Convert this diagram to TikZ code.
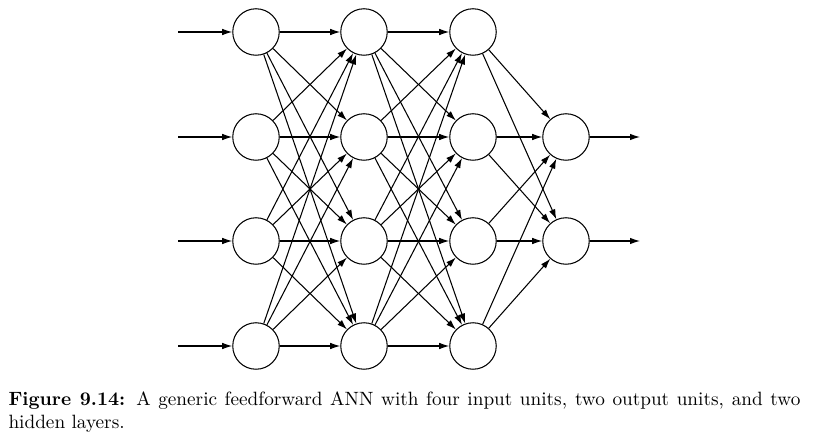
\documentclass[tikz,border=0pt]{standalone}
\usetikzlibrary{arrows.meta}

\begin{document}
\begin{tikzpicture}[x=0.02cm,y=-0.02cm,line width=0.6pt,
  unit/.style={draw,circle,minimum size=0.93cm,inner sep=0pt},
  conn/.style={-{Latex[length=2mm,width=1.3mm]}}]
  \useasboundingbox (0,0) rectangle (816,439);
  % units of the three left layers
  \foreach \i/\y in {1/32,2/137,3/241,4/346} {
    \node[unit] (a\i) at (256,\y) {};
    \node[unit] (b\i) at (364,\y) {};
    \node[unit] (c\i) at (473,\y) {};
    \coordinate (in\i) at (178,\y);
  }
  % output units
  \node[unit] (o1) at (566,137) {};
  \node[unit] (o2) at (566,241) {};
  \coordinate (out1) at (640,137);
  \coordinate (out2) at (640,241);
  % connections
  \foreach \i in {1,...,4} {
    \draw[conn] (in\i) -- (a\i);
    \foreach \j in {1,...,4} {
      \draw[conn] (a\i) -- (b\j);
      \draw[conn] (b\i) -- (c\j);
    }
    \foreach \j in {1,2}
      \draw[conn] (c\i) -- (o\j);
  }
  \draw[conn] (o1) -- (out1);
  \draw[conn] (o2) -- (out2);
  \node[anchor=north west,text width=15.84cm,align=justify,inner sep=0pt,
    font=\fontsize{10.95}{13}\selectfont]
    (caption) at (8,391)
    {\textbf{Figure 9.14:} A generic feedforward ANN with four input units, two output units, and two hidden layers.};
\end{tikzpicture}
\end{document}
